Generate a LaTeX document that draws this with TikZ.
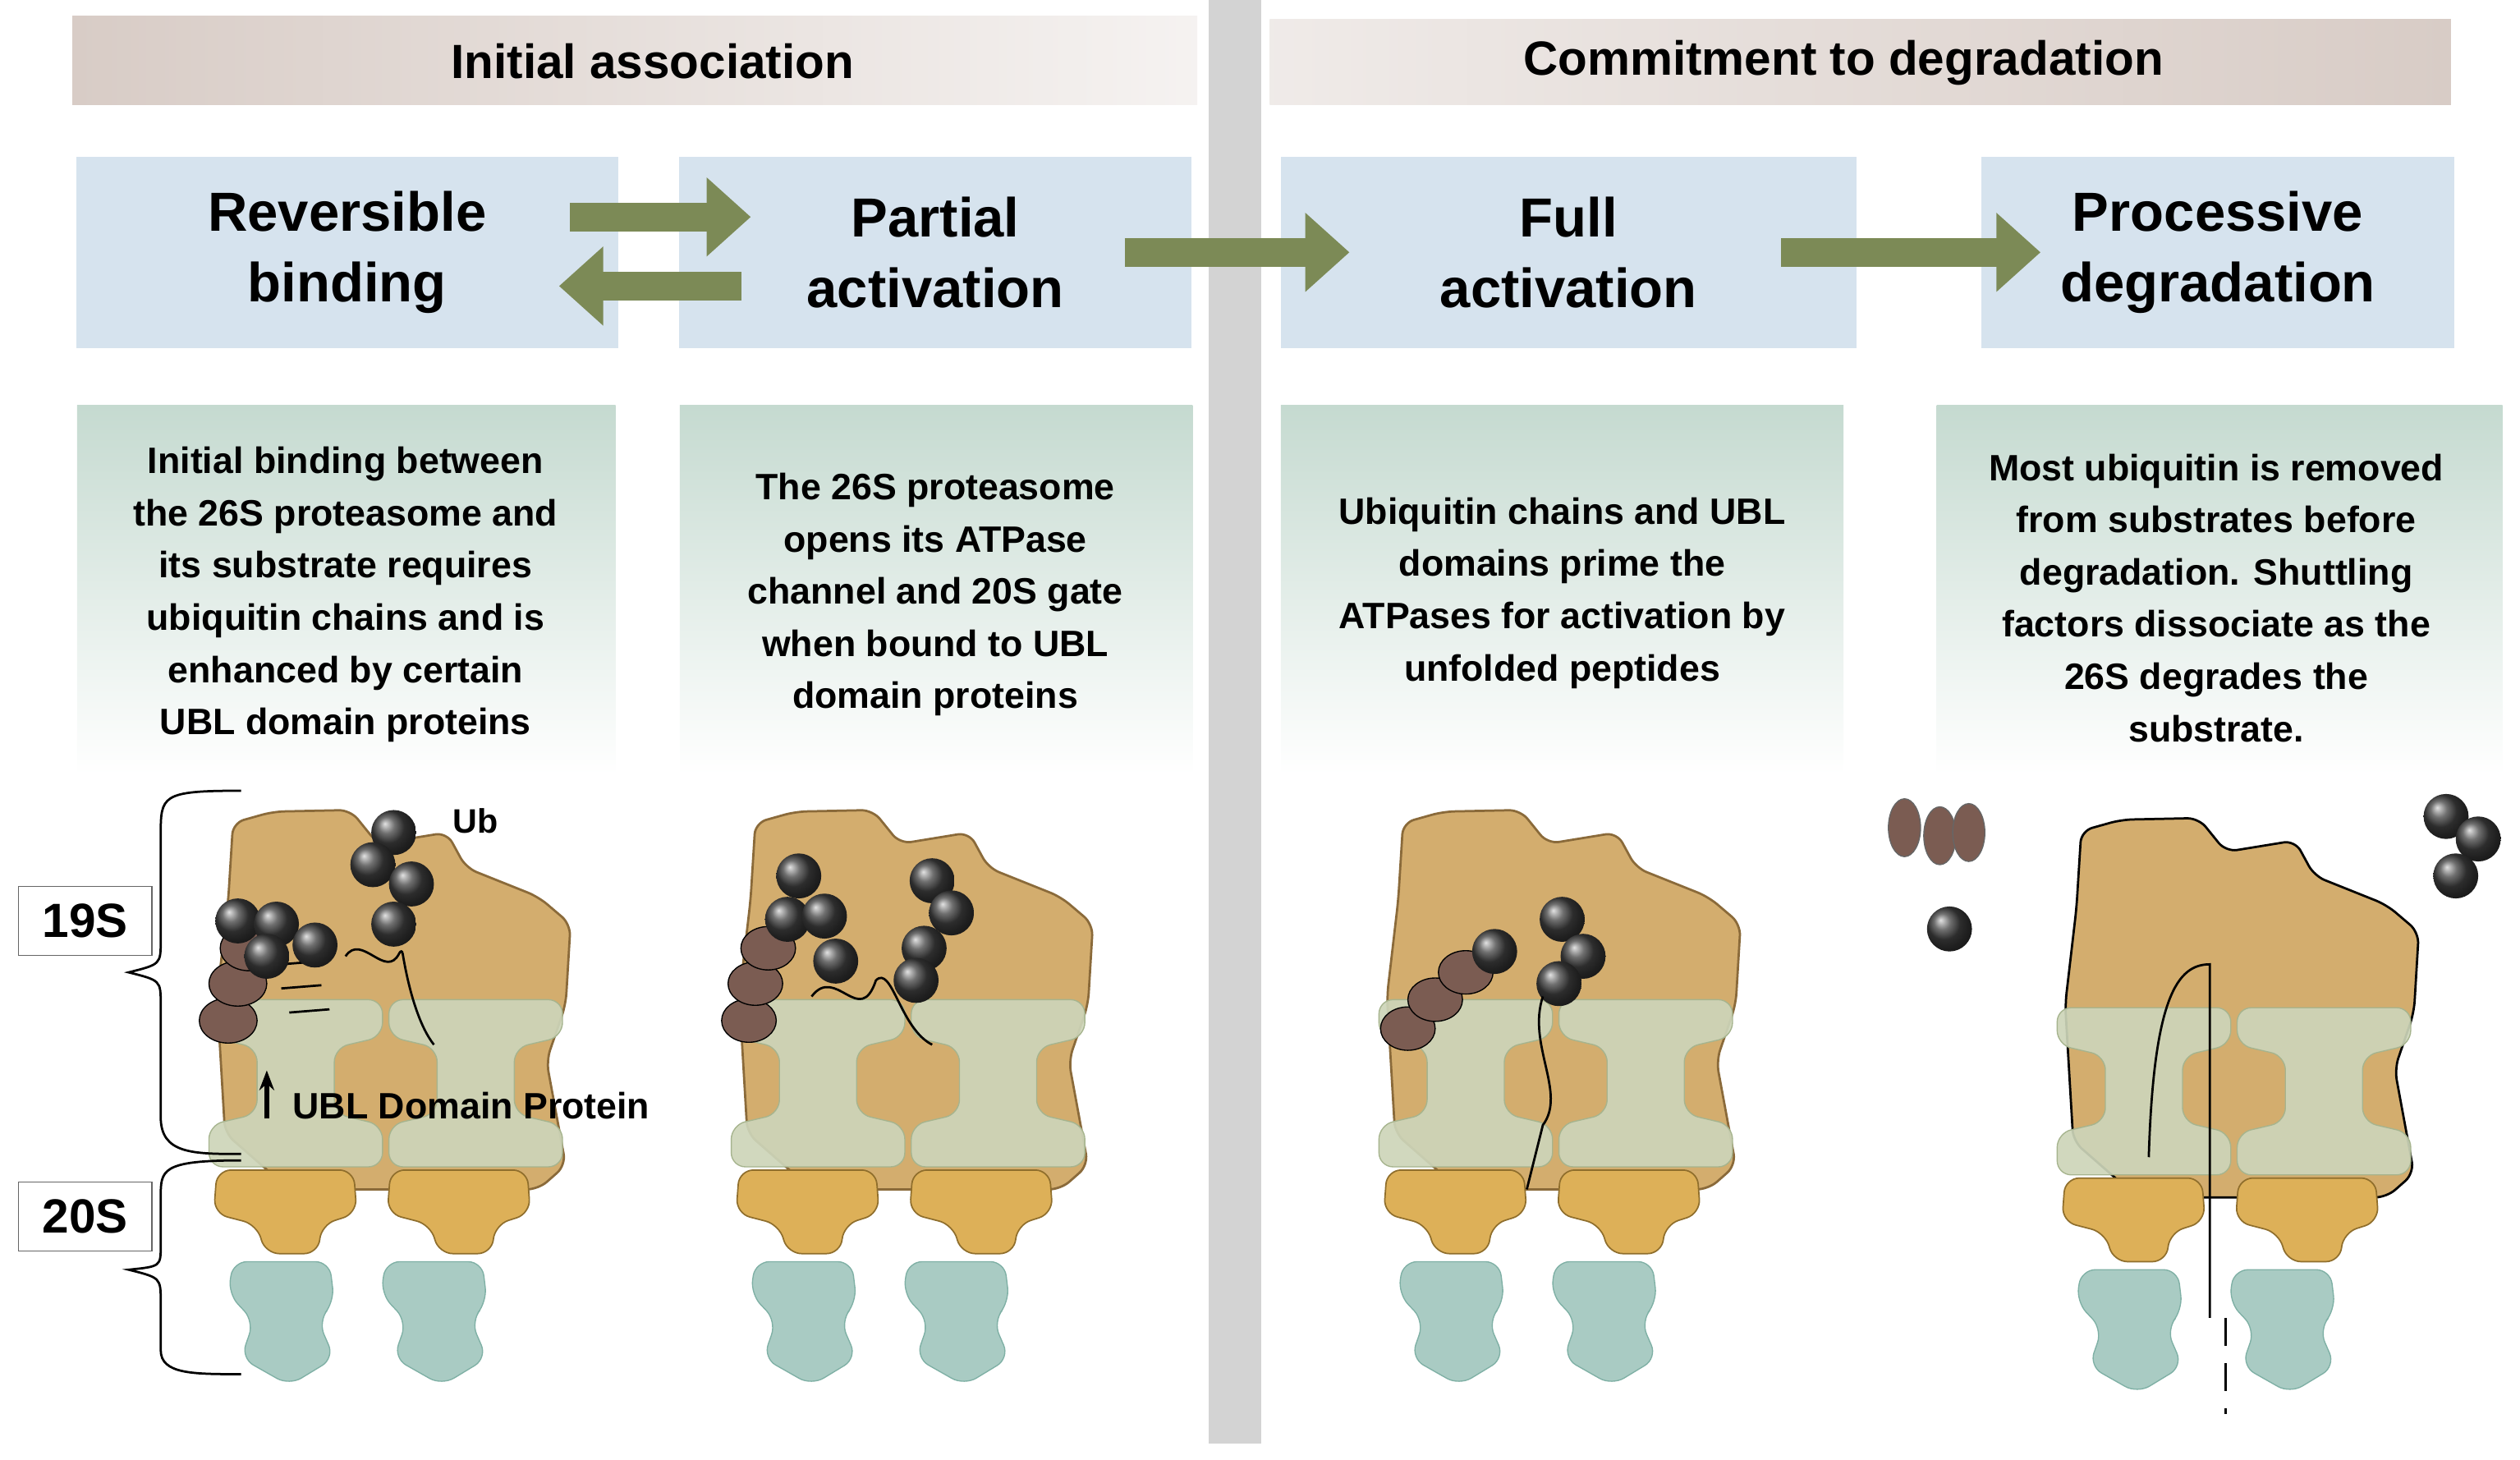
\documentclass[tikz,border=0pt]{standalone}
\usepackage{fontspec}
\setmainfont{Liberation Sans}
\usetikzlibrary{arrows.meta,decorations.pathreplacing}
\definecolor{hdr}{HTML}{D8CCC6}
\definecolor{boxblue}{HTML}{D6E3EE}
\definecolor{descgreen}{HTML}{C5DAD0}
\definecolor{olive}{HTML}{7C8A56}
\definecolor{divgrey}{HTML}{D3D3D3}
\definecolor{tan}{HTML}{D3AD6E}
\definecolor{tanline}{HTML}{8A6A3A}
\definecolor{lid}{HTML}{CDD5B9}
\definecolor{lidline}{HTML}{A6B48E}
\definecolor{gold}{HTML}{DDB058}
\definecolor{goldline}{HTML}{8F6E2C}
\definecolor{teal}{HTML}{A9CBC3}
\definecolor{tealline}{HTML}{7FB0A5}
\definecolor{ubl}{HTML}{7B5C52}
\tikzset{
  stage/.style={fill=boxblue, minimum width=#1, minimum height=2.38cm,
    font=\bfseries\fontsize{19.5}{25}\selectfont, align=center},
  desc/.style={font=\bfseries\fontsize{13}{18.5}\selectfont, align=center},
  flow/.style={draw=olive, line width=0.36cm, -{Triangle[length=0.55cm,width=0.95cm]}},
  ubball/.style={ball color=black!75},
  lab/.style={draw=black!60, fill=white, font=\bfseries\fontsize{17}{20}\selectfont,
    minimum width=1.66cm, minimum height=0.86cm},
  pics/prot/.style={code={
    % 19S base
    \draw[fill=tan, draw=#1, line width=0.8pt, rounded corners=4pt]
      (15,12) -- (40,5) -- (88,4) -- (105,25) -- (148,18) -- (160,40) -- (205,58)
      -- (225,75) -- (222,125) -- (210,160) -- (222,225) -- (205,240) -- (50,240)
      -- (10,205) -- (5,120) -- (12,60) -- cycle;
    % lid (two I-shapes)
    \foreach \dx in {0,112}{
      \draw[fill=lid, draw=lidline, fill opacity=0.92, rounded corners=5pt, shift={(\dx,0)}]
        (0,122) -- (108,122) -- (108,145) -- (78,152) -- (78,193) -- (108,200)
        -- (108,226) -- (0,226) -- (0,200) -- (30,193) -- (30,152) -- (0,145) -- cycle;
    }
    % 20S alpha
    \foreach \dx in {0,108}{
      \draw[fill=gold, draw=goldline, line width=0.5pt, rounded corners=5pt, shift={(\dx,0)}]
        (5,228) -- (90,228) -- (92,255) -- (70,262) -- (68,280) -- (35,280)
        -- (30,262) -- (3,255) -- cycle;
    }
    % 20S beta
    \foreach \dx in {0,95}{
      \draw[fill=teal, draw=tealline, rounded corners=5pt, shift={(\dx,0)}]
        (15,285) -- (75,285) -- (78,310) -- (68,322) -- (78,345) -- (50,362)
        -- (20,345) -- (28,322) -- (12,305) -- cycle;
    }
  }}
}
\begin{document}
\begin{tikzpicture}[x=0.02cm, y=-0.02cm]
\useasboundingbox (0,0) rectangle (1568,908);
% divider
\fill[divgrey] (752,0) rectangle (785,898);
% header bands
\shade[left color=hdr, right color=hdr!25] (45,10) rectangle (745,65);
\shade[left color=hdr!40, right color=hdr] (790,12) rectangle (1525,65);
\node[font=\bfseries\fontsize{17}{19}\selectfont] (h1) at (406,38) {Initial association};
\node[font=\bfseries\fontsize{17}{19}\selectfont] (h2) at (1147,39) {Commitment to degradation};
% stage boxes
\node[stage=6.74cm] (b1) at (216,157) {Reversible\\binding};
\node[stage=6.38cm] (b2) at (582,157) {Partial\\activation};
\node[stage=7.16cm] (b3) at (976,157) {Full\\activation};
\node[stage=5.88cm] (b4) at (1380,157) {Processive\\degradation};
% arrows
\draw[flow] ([xshift=-0.6cm,yshift=0.44cm]b1.east) -- ([xshift=0.9cm,yshift=0.44cm]b2.west);
\draw[flow] ([xshift=0.78cm,yshift=-0.42cm]b2.west) -- ([xshift=-0.74cm,yshift=-0.42cm]b1.east);
\draw[flow] ([xshift=-0.84cm]b2.east) -- ([xshift=0.86cm]b3.west);
\draw[flow] ([xshift=-0.94cm]b3.east) -- ([xshift=0.74cm]b4.west);
% description panels
\shade[top color=descgreen, bottom color=white] (48,252) rectangle (383,482);
\shade[top color=descgreen, bottom color=white] (423,252) rectangle (742,482);
\shade[top color=descgreen, bottom color=white] (797,252) rectangle (1147,482);
\shade[top color=descgreen, bottom color=white] (1205,252) rectangle (1557,482);
\node[desc] (d1) at (215,370) {Initial binding between\\the 26S proteasome and\\its substrate requires\\ubiquitin chains and is\\enhanced by certain\\UBL domain proteins};
\node[desc] (d2) at (582,370) {The 26S proteasome\\opens its ATPase\\channel and 20S gate\\when bound to UBL\\domain proteins};
\node[desc] (d3) at (972,369) {Ubiquitin chains and UBL\\domains prime the\\ATPases for activation by\\unfolded peptides};
\node[desc] (d4) at (1379,372) {Most ubiquitin is removed\\from substrates before\\degradation. Shuttling\\factors dissociate as the\\26S degrades the\\substrate.};
% proteasomes
\pic at (130,500) {prot=tanline};
\pic at (455,500) {prot=tanline};
\pic at (858,500) {prot=tanline};
\pic at (1280,505) {prot=black};
% cartoon 1 details
\foreach \a/\b in {142/635,148/612,155/590}{\fill[ubl, draw=black] (\a,\b) ellipse (0.36cm and 0.28cm);}
\draw[thick, rounded corners=2pt] (175,600) -- (200,598) (175,615) -- (200,613) (180,630) -- (205,628)
  (215,595) .. controls (225,580) and (240,610) .. (250,590) .. controls (255,620) and (262,640) .. (270,650);
\foreach \p in {(245,518),(232,538),(256,550),(245,575),(148,573),(172,575),(196,588),(166,595)}{\shade[ubball] \p circle (0.28cm);}
\node[font=\bfseries\fontsize{12}{14}\selectfont] (ub) at (296,511) {Ub};
\node[font=\bfseries\fontsize{13}{15}\selectfont, anchor=west] (ublt) at (176,688) {UBL Domain Protein};
\draw[-{Stealth[length=7pt]}, line width=1.8pt] (ublt.west) ++(-10,8) coordinate (ua) -- ++(0,-30) coordinate (ub2);
% braces and labels
\draw[thick] (150,492) .. controls (100,492) and (100,495) .. (100,520) -- (100,585)
  .. controls (100,600) .. (80,605) .. controls (100,610) .. (100,625) -- (100,695)
  .. controls (100,718) and (120,718) .. (150,718);
\draw[thick] (150,722) .. controls (100,722) and (100,728) .. (100,745) -- (100,775)
  .. controls (100,788) .. (80,790) .. controls (100,795) .. (100,810) -- (100,840)
  .. controls (100,855) and (120,855) .. (150,855);
\node[lab] (s19) at (53,573) {19S};
\node[lab] (s20) at (53,757) {20S};
% cartoon 2 details
\foreach \a/\b in {466/635,470/612,478/590}{\fill[ubl, draw=black] (\a,\b) ellipse (0.34cm and 0.27cm);}
\foreach \p in {(497,545),(490,572),(513,570),(520,598),(580,548),(592,568),(575,590),(570,610)}{\shade[ubball] \p circle (0.28cm);}
\draw[thick] (505,620) .. controls (520,600) and (535,640) .. (545,610) .. controls (555,600) and (560,640) .. (580,650);
% cartoon 3 details
\foreach \a/\b in {876/640,893/622,912/605}{\fill[ubl, draw=black] (\a,\b) ellipse (0.34cm and 0.27cm);}
\foreach \p in {(930,592),(972,572),(985,595),(970,612)}{\shade[ubball] \p circle (0.28cm);}
\draw[thick] (960,620) .. controls (950,650) and (975,680) .. (960,700) -- (950,740);
% cartoon 4 details
\foreach \a/\b in {1185/515,1207/520,1225/518}{\fill[ubl, draw=black!60] (\a,\b) ellipse (0.2cm and 0.36cm);}
\foreach \p in {(1213,578),(1522,508),(1542,522),(1528,545)}{\shade[ubball] \p circle (0.28cm);}
\draw[thick] (1337,720) .. controls (1340,620) and (1355,600) .. (1375,600) -- (1375,820);
\draw[thick, dash pattern=on 10pt off 6pt] (1385,820) -- (1385,880);
\end{tikzpicture}
\end{document}
